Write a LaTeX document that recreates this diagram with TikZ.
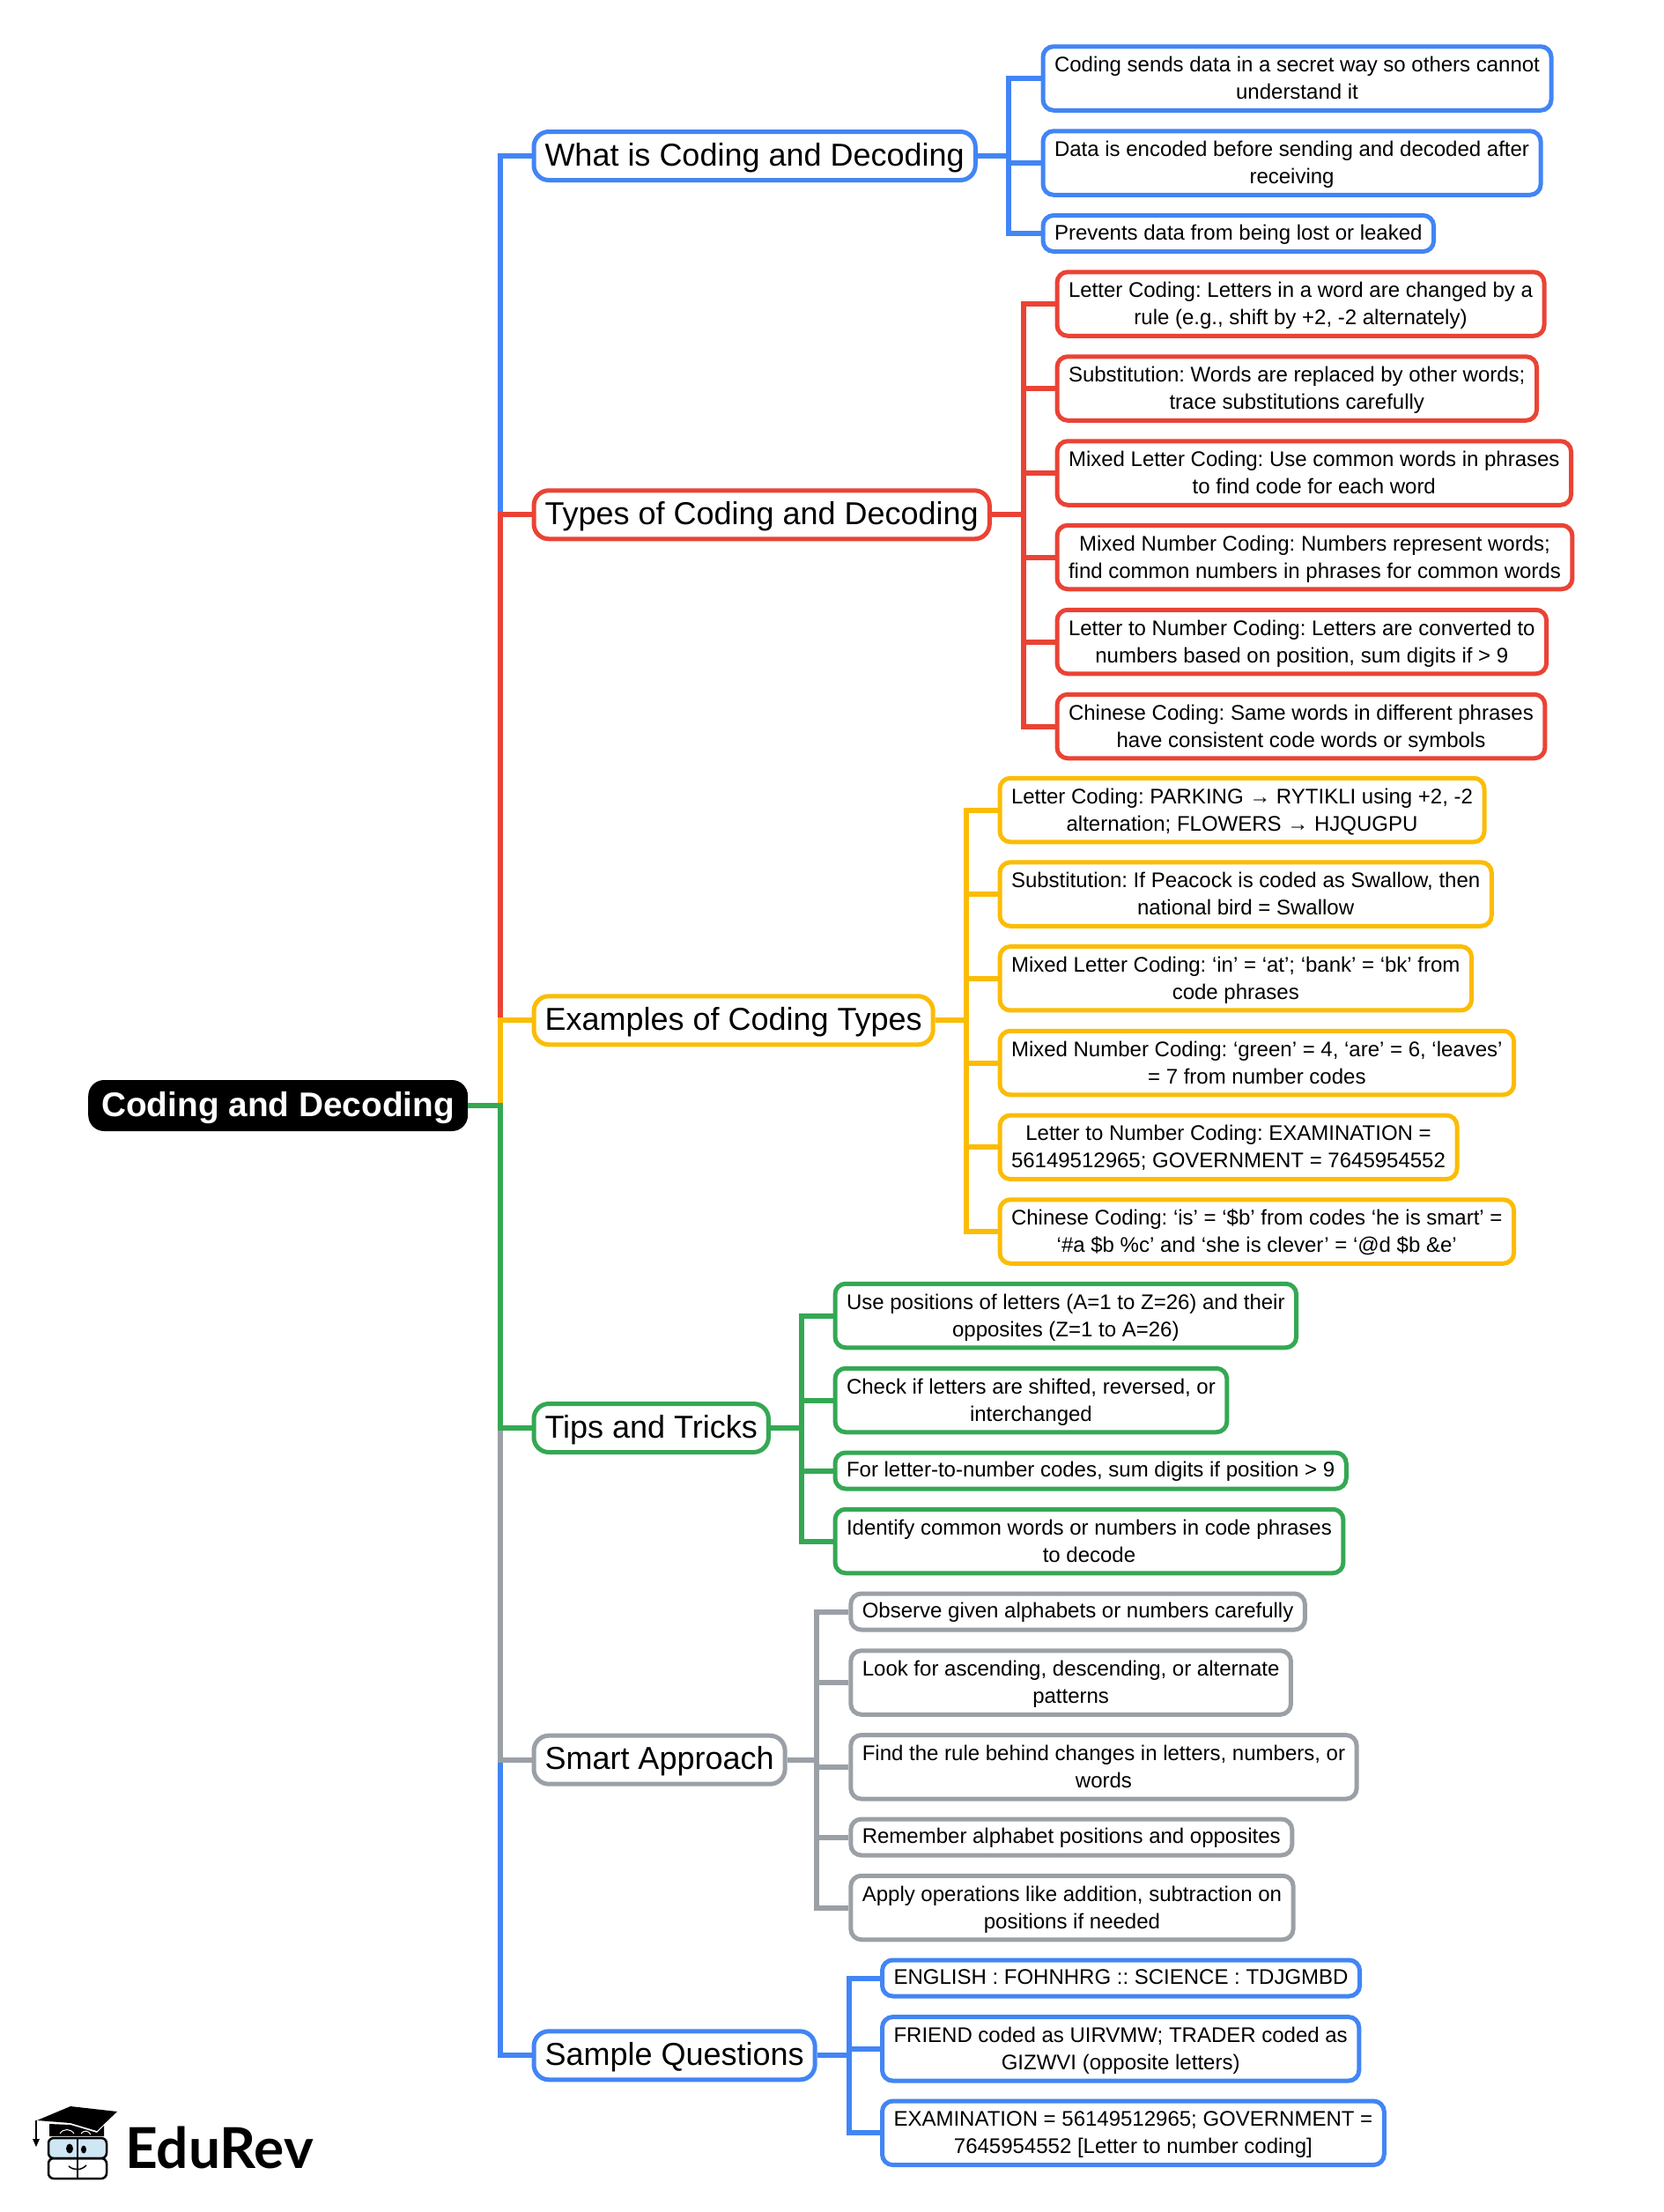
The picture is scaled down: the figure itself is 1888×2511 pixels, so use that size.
\documentclass[tikz,border=0pt]{standalone}
\usepackage{fontspec}
\setmainfont{Liberation Sans}
\newfontfamily\logofont{Lato}
\usepackage{tikz}
\definecolor{mapblue}{HTML}{4285F4}
\definecolor{mapred}{HTML}{EA4335}
\definecolor{mapyellow}{HTML}{FBBC04}
\definecolor{mapgreen}{HTML}{34A853}
\definecolor{mapgray}{HTML}{9AA0A6}
\definecolor{logoblue}{HTML}{CFE6F5}
\frenchspacing

\begin{document}
\begin{tikzpicture}[
	x=1pt, y=-1pt,
	rootbox/.style={font=\fontsize{38.8}{44}\bfseries\selectfont, fill=black, text=white, rounded corners=18, minimum height=58, text height=30, text depth=4.6, inner xsep=15, anchor=west},
	topic/.style={font=\fontsize{36}{44}\selectfont, draw=#1, fill=white, line width=5, rounded corners=17, minimum height=55, text height=28, text depth=6, inner xsep=12.5, anchor=west},
	leaf/.style={font=\fontsize{24}{31}\selectfont, draw=#1, fill=white, line width=5, rounded corners=12, minimum height=41, text height=19, text depth=4.6, inner xsep=13, inner ysep=2, align=center, anchor=west},
	leaftwo/.style={leaf=#1, minimum height=72.5, text height=53, text depth=6},
	wire/.style={draw=#1, line width=6}
]
\useasboundingbox (0,0) rectangle (1888,2511);

\node[rootbox] (root) at (100,1255) {Coding and Decoding};

\node[topic=mapblue] (what) at (603.5,177) {What is Coding and Decoding};
\node[topic=mapred] (types) at (603.5,584.3) {Types of Coding and Decoding};
\node[topic=mapyellow] (examples) at (603.5,1158.3) {Examples of Coding Types};
\node[topic=mapgreen] (tips) at (603.5,1621) {Tips and Tricks};
\node[topic=mapgray] (smart) at (603.5,1997.7) {Smart Approach};
\node[topic=mapblue] (sample) at (603.5,2333.3) {Sample Questions};

\coordinate (trunk) at (568,1255);
\coordinate (trwhat) at (1145,177);
\coordinate (trtypes) at (1162.3,584.3);
\coordinate (trexamples) at (1097.3,1158.3);
\coordinate (trtips) at (910,1621);
\coordinate (trsmart) at (927.3,1997.7);
\coordinate (trsample) at (964,2333.3);

\node[leaftwo=mapblue] (what1) at (1181.5,89) {Coding sends data in a secret way so others cannot\\understand it};
\node[leaftwo=mapblue] (what2) at (1181.5,185) {Data is encoded before sending and decoded after\\receiving};
\node[leaf=mapblue] (what3) at (1181.5,265) {Prevents data from being lost or leaked};

\node[leaftwo=mapred] (types1) at (1197.5,345) {Letter Coding: Letters in a word are changed by a\\rule (e.g., shift by +2, -2 alternately)};
\node[leaftwo=mapred] (types2) at (1197.5,441) {Substitution: Words are replaced by other words;\\trace substitutions carefully};
\node[leaftwo=mapred] (types3) at (1197.5,537) {Mixed Letter Coding: Use common words in phrases\\to find code for each word};
\node[leaftwo=mapred] (types4) at (1197.5,632.5) {Mixed Number Coding: Numbers represent words;\\find common numbers in phrases for common words};
\node[leaftwo=mapred] (types5) at (1197.5,728.5) {Letter to Number Coding: Letters are converted to\\numbers based on position, sum digits if > 9};
\node[leaftwo=mapred] (types6) at (1197.5,824.5) {Chinese Coding: Same words in different phrases\\have consistent code words or symbols};

\node[leaftwo=mapyellow] (examples1) at (1132.5,919.5) {Letter Coding: PARKING → RYTIKLI using +2, -2\\alternation; FLOWERS → HJQUGPU};
\node[leaftwo=mapyellow] (examples2) at (1132.5,1015) {Substitution: If Peacock is coded as Swallow, then\\national bird = Swallow};
\node[leaftwo=mapyellow] (examples3) at (1132.5,1110.7) {Mixed Letter Coding: ‘in’ = ‘at’; ‘bank’ = ‘bk’ from\\code phrases};
\node[leaftwo=mapyellow] (examples4) at (1132.5,1206.5) {Mixed Number Coding: ‘green’ = 4, ‘are’ = 6, ‘leaves’\\= 7 from number codes};
\node[leaftwo=mapyellow] (examples5) at (1132.5,1302.3) {Letter to Number Coding: EXAMINATION =\\56149512965; GOVERNMENT = 7645954552};
\node[leaftwo=mapyellow] (examples6) at (1132.5,1398) {Chinese Coding: ‘is’ = ‘\$b’ from codes ‘he is smart’ =\\‘\#a \$b \%c’ and ‘she is clever’ = ‘@d \$b \&e’};

\node[leaftwo=mapgreen] (tips1) at (945.5,1493.5) {Use positions of letters (A=1 to Z=26) and their\\opposites (Z=1 to A=26)};
\node[leaftwo=mapgreen] (tips2) at (945.5,1589.5) {Check if letters are shifted, reversed, or\\interchanged};
\node[leaf=mapgreen] (tips3) at (945.5,1669.5) {For letter-to-number codes, sum digits if position > 9};
\node[leaftwo=mapgreen] (tips4) at (945.5,1749.5) {Identify common words or numbers in code phrases\\to decode};

\node[leaf=mapgray] (smart1) at (963.3,1829.5) {Observe given alphabets or numbers carefully};
\node[leaftwo=mapgray] (smart2) at (963.3,1910) {Look for ascending, descending, or alternate\\patterns};
\node[leaftwo=mapgray] (smart3) at (963.3,2005.8) {Find the rule behind changes in letters, numbers, or\\words};
\node[leaf=mapgray] (smart4) at (963.3,2085.5) {Remember alphabet positions and opposites};
\node[leaftwo=mapgray] (smart5) at (963.3,2165.5) {Apply operations like addition, subtraction on\\positions if needed};

\node[leaf=mapblue] (sample1) at (999,2245.5) {ENGLISH : FOHNHRG :: SCIENCE : TDJGMBD};
\node[leaftwo=mapblue] (sample2) at (999,2325.8) {FRIEND coded as UIRVMW; TRADER coded as\\GIZWVI (opposite letters)};
\node[leaftwo=mapblue] (sample3) at (999,2421.3) {EXAMINATION = 56149512965; GOVERNMENT =\\7645954552 [Letter to number coding]};

\draw[wire=mapblue] (root.east) -- (trunk) |- (sample.west);
\draw[wire=mapgray] (root.east) -- (trunk) |- (smart.west);
\draw[wire=mapgreen] (root.east) -- (trunk) |- (tips.west);
\draw[wire=mapblue] (root.east) -- (trunk) |- (what.west);
\draw[wire=mapred] (root.east) -- (trunk) |- (types.west);
\draw[wire=mapyellow] (root.east) -- (trunk) |- (examples.west);
\draw[wire=mapgreen] (root.east) -- (trunk) -- ++(0,30);

\draw[wire=mapblue] (what.east) -- (trwhat) |- (what1.west);
\draw[wire=mapblue] (what.east) -- (trwhat) |- (what2.west);
\draw[wire=mapblue] (what.east) -- (trwhat) |- (what3.west);

\draw[wire=mapred] (types.east) -- (trtypes) |- (types1.west);
\draw[wire=mapred] (types.east) -- (trtypes) |- (types2.west);
\draw[wire=mapred] (types.east) -- (trtypes) |- (types3.west);
\draw[wire=mapred] (types.east) -- (trtypes) |- (types4.west);
\draw[wire=mapred] (types.east) -- (trtypes) |- (types5.west);
\draw[wire=mapred] (types.east) -- (trtypes) |- (types6.west);

\draw[wire=mapyellow] (examples.east) -- (trexamples) |- (examples1.west);
\draw[wire=mapyellow] (examples.east) -- (trexamples) |- (examples2.west);
\draw[wire=mapyellow] (examples.east) -- (trexamples) |- (examples3.west);
\draw[wire=mapyellow] (examples.east) -- (trexamples) |- (examples4.west);
\draw[wire=mapyellow] (examples.east) -- (trexamples) |- (examples5.west);
\draw[wire=mapyellow] (examples.east) -- (trexamples) |- (examples6.west);

\draw[wire=mapgreen] (tips.east) -- (trtips) |- (tips1.west);
\draw[wire=mapgreen] (tips.east) -- (trtips) |- (tips2.west);
\draw[wire=mapgreen] (tips.east) -- (trtips) |- (tips3.west);
\draw[wire=mapgreen] (tips.east) -- (trtips) |- (tips4.west);

\draw[wire=mapgray] (smart.east) -- (trsmart) |- (smart1.west);
\draw[wire=mapgray] (smart.east) -- (trsmart) |- (smart2.west);
\draw[wire=mapgray] (smart.east) -- (trsmart) |- (smart3.west);
\draw[wire=mapgray] (smart.east) -- (trsmart) |- (smart4.west);
\draw[wire=mapgray] (smart.east) -- (trsmart) |- (smart5.west);

\draw[wire=mapblue] (sample.east) -- (trsample) |- (sample1.west);
\draw[wire=mapblue] (sample.east) -- (trsample) |- (sample2.west);
\draw[wire=mapblue] (sample.east) -- (trsample) |- (sample3.west);

\fill (42,2407) -- (80,2391) -- (133,2397) -- (110,2419) -- (80,2410) -- cycle;
\fill (56,2411) -- (80,2412) -- (110,2421) -- (118,2413) -- (118,2425) -- (56,2425) -- cycle;
\draw[white, line width=1] (68,2422) .. controls (72,2416) and (80,2416) .. (84,2422);
\draw[white, line width=1] (92,2422) .. controls (95,2418) and (100,2418) .. (103,2423);
\draw[line width=1.5] (41,2407) -- (41,2428);
\fill (41,2437) -- (37,2428) -- (45,2428) -- cycle;
\draw[line width=2.5, fill=logoblue, rounded corners=6] (55,2427) rectangle (121,2450);
\draw[line width=2.5, rounded corners=6] (55,2450) rectangle (121,2473);
\draw[line width=2.5] (88,2427) -- (88,2473);
\fill (79,2439) ellipse (4 and 5.5);
\fill (95,2440) ellipse (3 and 4.5);
\draw[line width=1.5] (78,2459) .. controls (84,2464) and (92,2464) .. (98,2458);
\node[font=\logofont\fontsize{64}{70}\bfseries\selectfont, anchor=base west, inner sep=0] (logo) at (142,2461.7) {EduRev};
\end{tikzpicture}
\end{document}
